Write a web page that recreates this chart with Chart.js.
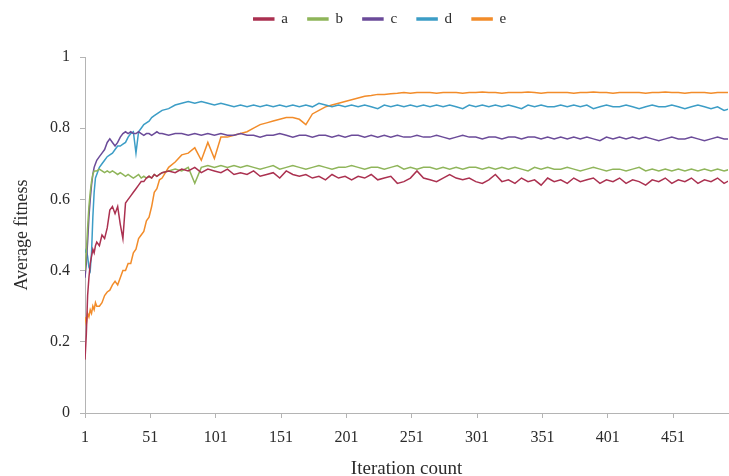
<!DOCTYPE html>
<html>
<head>
<meta charset="utf-8">
<script src="https://cdn.jsdelivr.net/npm/chart.js@4.4.1/dist/chart.umd.min.js"></script>
<style>
  html, body { margin: 0; padding: 0; background: #ffffff; }
  #c { display: block; }
</style>
</head>
<body>
<canvas id="c" width="729" height="476"></canvas>
<script>
// Sampled iteration numbers (dense at the start, every 5 afterwards)
const iterations = [
  1, 2, 3, 4, 5, 6, 7, 8, 9, 10,
  12, 14, 16, 18, 20, 22, 24, 26, 28, 30,
  32, 34, 36, 38, 40, 42, 44, 46, 48, 50,
  52, 54, 56, 58, 60,
  65, 70, 75, 80, 85, 90, 95, 100, 105, 110,
  115, 120, 125, 130, 135, 140, 145, 150, 155, 160,
  165, 170, 175, 180, 185, 190, 195, 200, 205, 210,
  215, 220, 225, 230, 235, 240, 245, 250, 255, 260,
  265, 270, 275, 280, 285, 290, 295, 300, 305, 310,
  315, 320, 325, 330, 335, 340, 345, 350, 355, 360,
  365, 370, 375, 380, 385, 390, 395, 400, 405, 410,
  415, 420, 425, 430, 435, 440, 445, 450, 455, 460,
  465, 470, 475, 480, 485, 490, 495
];

const seriesNames = ['a', 'b', 'c', 'd', 'e'];

const fitnessA = [
  0.15, 0.22, 0.33, 0.38, 0.42, 0.44, 0.46, 0.45, 0.47, 0.48,
  0.47, 0.50, 0.49, 0.52, 0.57, 0.58, 0.56, 0.58, 0.53, 0.49,
  0.59, 0.60, 0.61, 0.62, 0.63, 0.64, 0.65, 0.65, 0.66, 0.665,
  0.66, 0.67, 0.665, 0.67, 0.675,
  0.68, 0.675, 0.685, 0.68, 0.69, 0.675, 0.685, 0.68, 0.675, 0.685,
  0.67, 0.675, 0.67, 0.68, 0.665, 0.67, 0.675, 0.66, 0.68, 0.67,
  0.665, 0.67, 0.66, 0.665, 0.655, 0.67, 0.66, 0.665, 0.655, 0.665,
  0.66, 0.67, 0.655, 0.66, 0.665, 0.645, 0.65, 0.66, 0.68, 0.66,
  0.655, 0.65, 0.66, 0.67, 0.66, 0.655, 0.66, 0.65, 0.645, 0.655,
  0.67, 0.65, 0.655, 0.645, 0.66, 0.65, 0.655, 0.64, 0.66, 0.65,
  0.655, 0.645, 0.66, 0.65, 0.655, 0.66, 0.645, 0.655, 0.65, 0.66,
  0.645, 0.655, 0.65, 0.64, 0.655, 0.65, 0.66, 0.645, 0.655, 0.65,
  0.66, 0.645, 0.655, 0.65, 0.66, 0.645, 0.655
];

const fitnessB = [
  0.40, 0.45, 0.52, 0.58, 0.62, 0.65, 0.67, 0.68, 0.68, 0.68,
  0.685, 0.68, 0.675, 0.68, 0.675, 0.68, 0.675, 0.67, 0.675, 0.67,
  0.665, 0.67, 0.665, 0.66, 0.665, 0.67, 0.66, 0.665, 0.66, 0.665,
  0.66, 0.67, 0.665, 0.67, 0.675,
  0.68, 0.685, 0.68, 0.69, 0.645, 0.69, 0.695, 0.69, 0.695, 0.69,
  0.695, 0.69, 0.695, 0.69, 0.685, 0.69, 0.695, 0.685, 0.69, 0.695,
  0.69, 0.685, 0.69, 0.695, 0.69, 0.685, 0.69, 0.69, 0.695, 0.69,
  0.685, 0.69, 0.69, 0.685, 0.69, 0.695, 0.685, 0.69, 0.685, 0.69,
  0.69, 0.685, 0.69, 0.685, 0.69, 0.685, 0.69, 0.69, 0.685, 0.69,
  0.685, 0.69, 0.685, 0.69, 0.685, 0.68, 0.69, 0.685, 0.69, 0.685,
  0.685, 0.69, 0.685, 0.68, 0.685, 0.69, 0.685, 0.68, 0.685, 0.685,
  0.68, 0.685, 0.69, 0.68, 0.685, 0.68, 0.685, 0.68, 0.685, 0.68,
  0.685, 0.68, 0.685, 0.68, 0.685, 0.68, 0.685
];

const fitnessC = [
  0.38, 0.42, 0.48, 0.55, 0.60, 0.64, 0.67, 0.69, 0.70, 0.71,
  0.72, 0.73, 0.74, 0.76, 0.77, 0.76, 0.75, 0.76, 0.775, 0.785,
  0.79, 0.785, 0.79, 0.785, 0.785, 0.79, 0.785, 0.78, 0.785, 0.785,
  0.78, 0.785, 0.79, 0.785, 0.785,
  0.78, 0.785, 0.785, 0.78, 0.785, 0.78, 0.785, 0.78, 0.785, 0.78,
  0.78, 0.785, 0.78, 0.78, 0.775, 0.78, 0.78, 0.785, 0.78, 0.775,
  0.78, 0.78, 0.775, 0.78, 0.78, 0.775, 0.78, 0.775, 0.78, 0.78,
  0.775, 0.78, 0.775, 0.78, 0.775, 0.78, 0.775, 0.775, 0.78, 0.775,
  0.775, 0.78, 0.775, 0.77, 0.775, 0.78, 0.775, 0.775, 0.77, 0.775,
  0.775, 0.77, 0.775, 0.775, 0.77, 0.775, 0.775, 0.77, 0.775, 0.77,
  0.775, 0.77, 0.775, 0.77, 0.775, 0.77, 0.765, 0.775, 0.77, 0.775,
  0.77, 0.775, 0.77, 0.775, 0.77, 0.765, 0.77, 0.775, 0.77, 0.77,
  0.775, 0.77, 0.765, 0.77, 0.775, 0.77, 0.77
];

const fitnessD = [
  0.45, 0.46, 0.44, 0.41, 0.40, 0.45, 0.55, 0.62, 0.66, 0.67,
  0.69, 0.70, 0.71, 0.72, 0.725, 0.73, 0.74, 0.75, 0.75, 0.755,
  0.76, 0.775, 0.785, 0.79, 0.73, 0.79, 0.80, 0.81, 0.815, 0.82,
  0.83, 0.835, 0.84, 0.845, 0.85,
  0.855, 0.865, 0.87, 0.875, 0.87, 0.875, 0.87, 0.865, 0.87, 0.865,
  0.86, 0.865, 0.86, 0.865, 0.86, 0.865, 0.86, 0.865, 0.86, 0.865,
  0.86, 0.865, 0.86, 0.87, 0.865, 0.86, 0.865, 0.86, 0.865, 0.86,
  0.865, 0.86, 0.855, 0.865, 0.86, 0.865, 0.86, 0.865, 0.86, 0.865,
  0.86, 0.865, 0.86, 0.865, 0.86, 0.855, 0.865, 0.86, 0.865, 0.86,
  0.865, 0.86, 0.865, 0.86, 0.855, 0.865, 0.86, 0.865, 0.86, 0.86,
  0.865, 0.86, 0.865, 0.86, 0.865, 0.855, 0.86, 0.865, 0.86, 0.86,
  0.865, 0.86, 0.855, 0.86, 0.865, 0.86, 0.86, 0.865, 0.86, 0.855,
  0.86, 0.865, 0.86, 0.855, 0.86, 0.85, 0.855
];

const fitnessE = [
  0.27, 0.25, 0.28, 0.27, 0.29, 0.28, 0.30, 0.29, 0.31, 0.30,
  0.30, 0.31, 0.33, 0.34, 0.345, 0.36, 0.37, 0.36, 0.38, 0.40,
  0.40, 0.42, 0.42, 0.45, 0.46, 0.49, 0.50, 0.51, 0.54, 0.55,
  0.58, 0.62, 0.63, 0.655, 0.66,
  0.69, 0.705, 0.725, 0.73, 0.745, 0.71, 0.76, 0.715, 0.775, 0.775,
  0.78, 0.785, 0.79, 0.80, 0.81, 0.815, 0.82, 0.825, 0.83, 0.83,
  0.825, 0.81, 0.84, 0.85, 0.86, 0.865, 0.87, 0.875, 0.88, 0.885,
  0.89, 0.892, 0.895, 0.895, 0.897, 0.898, 0.90, 0.898, 0.90, 0.90,
  0.90, 0.898, 0.90, 0.90, 0.90, 0.898, 0.90, 0.90, 0.902, 0.90,
  0.90, 0.898, 0.90, 0.90, 0.90, 0.902, 0.90, 0.898, 0.90, 0.90,
  0.90, 0.90, 0.898, 0.90, 0.90, 0.902, 0.90, 0.90, 0.898, 0.90,
  0.90, 0.90, 0.90, 0.898, 0.90, 0.90, 0.902, 0.90, 0.90, 0.898,
  0.90, 0.90, 0.90, 0.898, 0.90, 0.90, 0.90
];

const xTickValues = [1, 51, 101, 151, 201, 251, 301, 351, 401, 451];
const yTickValues = [0, 0.2, 0.4, 0.6, 0.8, 1];

const seriesValues = [fitnessA, fitnessB, fitnessC, fitnessD, fitnessE];
const seriesColors = ['#ab3150', '#8fb55a', '#6b4b99', '#3c9dc6', '#f28c2a'];

const serif = "'Liberation Serif', 'Times New Roman', serif";
const axisColor = '#b4b4b4';
const textColor = '#2b2b2b';

const legendFontSize = 15;
const legendPadding = 20;

const datasets = seriesNames.map((name, i) => ({
  label: name,
  data: iterations.map((it, k) => ({ x: it, y: seriesValues[i][k] })),
  borderColor: seriesColors[i],
  backgroundColor: seriesColors[i],
  borderWidth: 1.5,
  pointRadius: 0,
  tension: 0
}));

// keep the legend row near the top edge, slightly right of centre
const legendPlacement = {
  id: 'legendPlacement',
  afterLayout(chart) {
    const lg = chart.legend;
    if (!lg) return;
    const wantedTop = 19 - legendPadding - legendFontSize / 2;
    const dy = lg.top - wantedTop;
    lg.top -= dy;
    lg.bottom -= dy;
    lg.left += 16;
    lg.right += 16;
  }
};

new Chart(document.getElementById('c'), {
  type: 'line',
  data: { datasets },
  plugins: [legendPlacement],
  options: {
    responsive: false,
    animation: false,
    devicePixelRatio: 1,
    layout: { padding: { top: 0, right: 1, bottom: 0, left: 0 } },
    plugins: {
      legend: {
        position: 'top',
        align: 'center',
        labels: {
          boxWidth: 20,
          boxHeight: 2,
          padding: legendPadding,
          color: textColor,
          font: { family: serif, size: legendFontSize }
        }
      },
      tooltip: { enabled: false }
    },
    scales: {
      x: {
        type: 'linear',
        min: 1,
        max: 493,
        afterBuildTicks(scale) {
          scale.ticks = xTickValues.map(v => ({ value: v }));
        },
        afterFit(scale) { scale.height = 63; },
        border: { display: true, color: axisColor, width: 1 },
        grid: { display: true, drawOnChartArea: false, drawTicks: true, tickLength: 5, color: axisColor },
        ticks: {
          autoSkip: false,
          maxRotation: 0,
          padding: 10,
          color: textColor,
          font: { family: serif, size: 16 },
          callback: v => String(v)
        },
        title: {
          display: true,
          text: 'Iteration count',
          color: textColor,
          font: { family: serif, size: 19, lineHeight: 1 },
          padding: { top: 0, bottom: -3 }
        }
      },
      y: {
        type: 'linear',
        min: 0,
        max: 1,
        afterBuildTicks(scale) {
          scale.ticks = yTickValues.map(v => ({ value: v }));
        },
        afterFit(scale) {
          scale.width = 85;
          scale.paddingTop = 57;
        },
        border: { display: true, color: axisColor, width: 1 },
        grid: { display: true, drawOnChartArea: false, drawTicks: true, tickLength: 5, color: axisColor },
        ticks: {
          padding: 10,
          color: textColor,
          font: { family: serif, size: 16 },
          callback: v => String(v)
        },
        title: {
          display: true,
          text: 'Average fitness',
          color: textColor,
          font: { family: serif, size: 18, lineHeight: 1 },
          padding: { top: 13, bottom: 0 }
        }
      }
    }
  }
});
</script>
</body>
</html>
